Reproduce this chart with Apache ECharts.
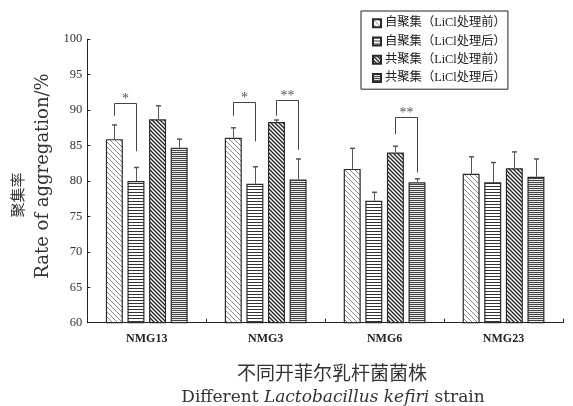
<!DOCTYPE html>
<html>
<head>
<meta charset="utf-8">
<script src="https://cdn.jsdelivr.net/npm/echarts@6/dist/echarts.min.js"></script>
<style>html,body{margin:0;padding:0;background:#fff;}#c{width:573px;height:406px;}</style>
</head>
<body>
<div id="c"></div>
<script>
// ---- data ----
const categories = ['NMG13', 'NMG3', 'NMG6', 'NMG23'];
const seriesNames = ['自聚集（LiCl处理前）', '自聚集（LiCl处理后）', '共聚集（LiCl处理前）', '共聚集（LiCl处理后）'];
const selfBefore = [85.9, 86.1, 81.7, 81.0];
const selfBeforeErr = [2.0, 1.4, 2.9, 2.4];
const selfAfter = [80.0, 79.6, 77.2, 79.8];
const selfAfterErr = [1.9, 2.4, 1.2, 2.8];
const coBefore = [88.7, 88.3, 84.0, 81.8];
const coBeforeErr = [1.9, 0.3, 0.9, 2.3];
const coAfter = [84.7, 80.2, 79.8, 80.6];
const coAfterErr = [1.2, 2.9, 0.5, 2.5];
const yMin = 60, yMax = 100, yStep = 5;
// significance brackets: [category, fromBar, toBar, topValue, leftLegEnd, rightLegEnd, label]
const sigBrackets = [
  [0, 0, 1, 91.0, 89.2, 84.2, '*'],
  [1, 0, 1, 91.1, 89.2, 85.6, '*'],
  [1, 2, 3, 91.4, 89.2, 84.4, '**'],
  [2, 2, 3, 89.0, 86.6, 81.2, '**']
];

// ---- styles ----
const BAR_W = 17, BAR_GAP = 4.6, PITCH = BAR_W + BAR_GAP;
const SERIF = '"Liberation Serif", "Times New Roman", serif';
const WSERIF = '"DejaVu Serif", serif';
const CJK = '"Noto Sans CJK SC", sans-serif';

function diagPattern(n, color, lw) {
  const c = document.createElement('canvas');
  c.width = n; c.height = n;
  const g = c.getContext('2d');
  g.fillStyle = '#fff'; g.fillRect(0, 0, n, n);
  g.strokeStyle = color; g.lineWidth = lw;
  for (let k = -1; k <= 1; k++) {
    g.beginPath(); g.moveTo(-1, k * n - 1); g.lineTo(n + 1, k * n + n + 1); g.stroke();
  }
  return { image: c, repeat: 'repeat' };
}
function hPattern(period, color, bg) {
  const c = document.createElement('canvas');
  c.width = 4; c.height = period;
  const g = c.getContext('2d');
  g.fillStyle = bg; g.fillRect(0, 0, 4, period);
  g.fillStyle = color; g.fillRect(0, 0, 4, 1);
  return { image: c, repeat: 'repeat' };
}
const fills = [
  diagPattern(5, '#8a8a8a', 1),
  hPattern(3, '#333', '#fff'),
  diagPattern(4, '#222', 1.3),
  hPattern(2, '#444', '#e8e8e8')
];
const values = [selfBefore, selfAfter, coBefore, coAfter];
const errs = [selfBeforeErr, selfAfterErr, coBeforeErr, coAfterErr];

const barSeries = seriesNames.map((name, i) => ({
  name: name,
  type: 'bar',
  data: values[i],
  barWidth: BAR_W,
  barGap: (BAR_GAP / BAR_W * 100) + '%',
  itemStyle: { color: fills[i], borderColor: '#2a2a2a', borderWidth: 1.2 },
  emphasis: { disabled: true },
  z: 2
}));

const errData = [];
values.forEach((arr, s) => arr.forEach((v, c) => errData.push([c, s, v, errs[s][c]])));

const errSeries = {
  type: 'custom',
  data: errData,
  encode: { x: 0, y: 2 },
  z: 5,
  silent: true,
  renderItem: function (params, api) {
    const c = api.value(0), s = api.value(1), v = api.value(2), e = api.value(3);
    const p0 = api.coord([c, v]);
    const p1 = api.coord([c, v + e]);
    const x = Math.round(p0[0] + (s - 1.5) * PITCH) + 0.5;
    const st = { stroke: '#555', lineWidth: 1 };
    return {
      type: 'group', children: [
        { type: 'line', shape: { x1: x, y1: p0[1], x2: x, y2: p1[1] }, style: st },
        { type: 'line', shape: { x1: x - 2.5, y1: p1[1], x2: x + 2.5, y2: p1[1] }, style: { stroke: '#555', lineWidth: 1.5 } }
      ]
    };
  }
};

const sigSeries = {
  type: 'custom',
  data: sigBrackets.map(b => b.slice(0, 6)),
  encode: { x: 0, y: 3 },
  z: 6,
  silent: true,
  renderItem: function (params, api) {
    const b = sigBrackets[params.dataIndex];
    const c = b[0];
    const top = api.coord([c, b[3]]);
    const lb = api.coord([c, b[4]]);
    const rb = api.coord([c, b[5]]);
    const xl = Math.round(top[0] + (b[1] - 1.5) * PITCH) + 0.5;
    const xr = Math.round(top[0] + (b[2] - 1.5) * PITCH) + 0.5;
    const yt = Math.round(top[1]) + 0.5;
    return {
      type: 'group', children: [
        { type: 'polyline', shape: { points: [[xl, lb[1]], [xl, yt], [xr, yt], [xr, rb[1]]] }, style: { stroke: '#444', lineWidth: 1, fill: null } },
        { type: 'text', x: (xl + xr) / 2, y: yt + 3, style: { text: b[6], fontFamily: SERIF, fontSize: 14, fill: '#555', align: 'center', verticalAlign: 'bottom' } }
      ]
    };
  }
};

const chart = echarts.init(document.getElementById('c'), null, { renderer: 'canvas' });
chart.setOption({
  animation: false,
  backgroundColor: '#fff',
  grid: { left: 87.3, right: 10, top: 39.2, bottom: 83.3, containLabel: false },
  legend: {
    data: seriesNames,
    orient: 'vertical',
    left: 361, top: 11,
    itemWidth: 8, itemHeight: 8, itemGap: 6,
    icon: 'rect',
    padding: [6, 2, 5, 11],
    borderColor: '#222', borderWidth: 1,
    selectedMode: false,
    textStyle: { fontFamily: SERIF + ',' + CJK, fontSize: 12.3, color: '#222', padding: [0, 0, 0, -1] }
  },
  xAxis: {
    type: 'category',
    data: categories,
    axisLine: { lineStyle: { color: '#222', width: 1 } },
    axisTick: { show: true, inside: true, length: 4, lineStyle: { color: '#222' } },
    axisLabel: { fontFamily: SERIF, fontSize: 12, fontWeight: 'bold', color: '#222', margin: 10 },
    splitLine: { show: false }
  },
  yAxis: {
    type: 'value',
    min: yMin, max: yMax, interval: yStep,
    axisLine: { show: true, lineStyle: { color: '#222', width: 1 } },
    axisTick: { show: true, inside: true, length: 3, lineStyle: { color: '#222' } },
    axisLabel: { fontFamily: SERIF, fontSize: 12.5, color: '#333', margin: 5 },
    splitLine: { show: false }
  },
  graphic: [
    { type: 'text', x: 17, y: 195, rotation: Math.PI / 2, style: { text: '聚集率', fontFamily: CJK, fontSize: 15, fill: '#333', align: 'center', verticalAlign: 'middle' } },
    { type: 'text', x: 43, y: 176, rotation: Math.PI / 2, style: { text: 'Rate of aggregation/%', fontFamily: WSERIF, fontSize: 18, fill: '#333', align: 'center', verticalAlign: 'middle' } },
    { type: 'text', x: 332, y: 373, style: { text: '不同开菲尔乳杆菌菌株', fontFamily: CJK, fontSize: 19, fill: '#333', align: 'center', verticalAlign: 'middle' } },
    { type: 'text', x: 333, y: 398, style: {
        text: '{n|Different }{i|Lactobacillus kefiri}{n| strain}',
        align: 'center', verticalAlign: 'middle',
        rich: {
          n: { fontFamily: WSERIF, fontSize: 17, fill: '#333', color: '#333' },
          i: { fontFamily: WSERIF, fontSize: 17, fontStyle: 'italic', fill: '#333', color: '#333' }
        }
      } }
  ],
  series: barSeries.concat([errSeries, sigSeries])
});
</script>
</body>
</html>
